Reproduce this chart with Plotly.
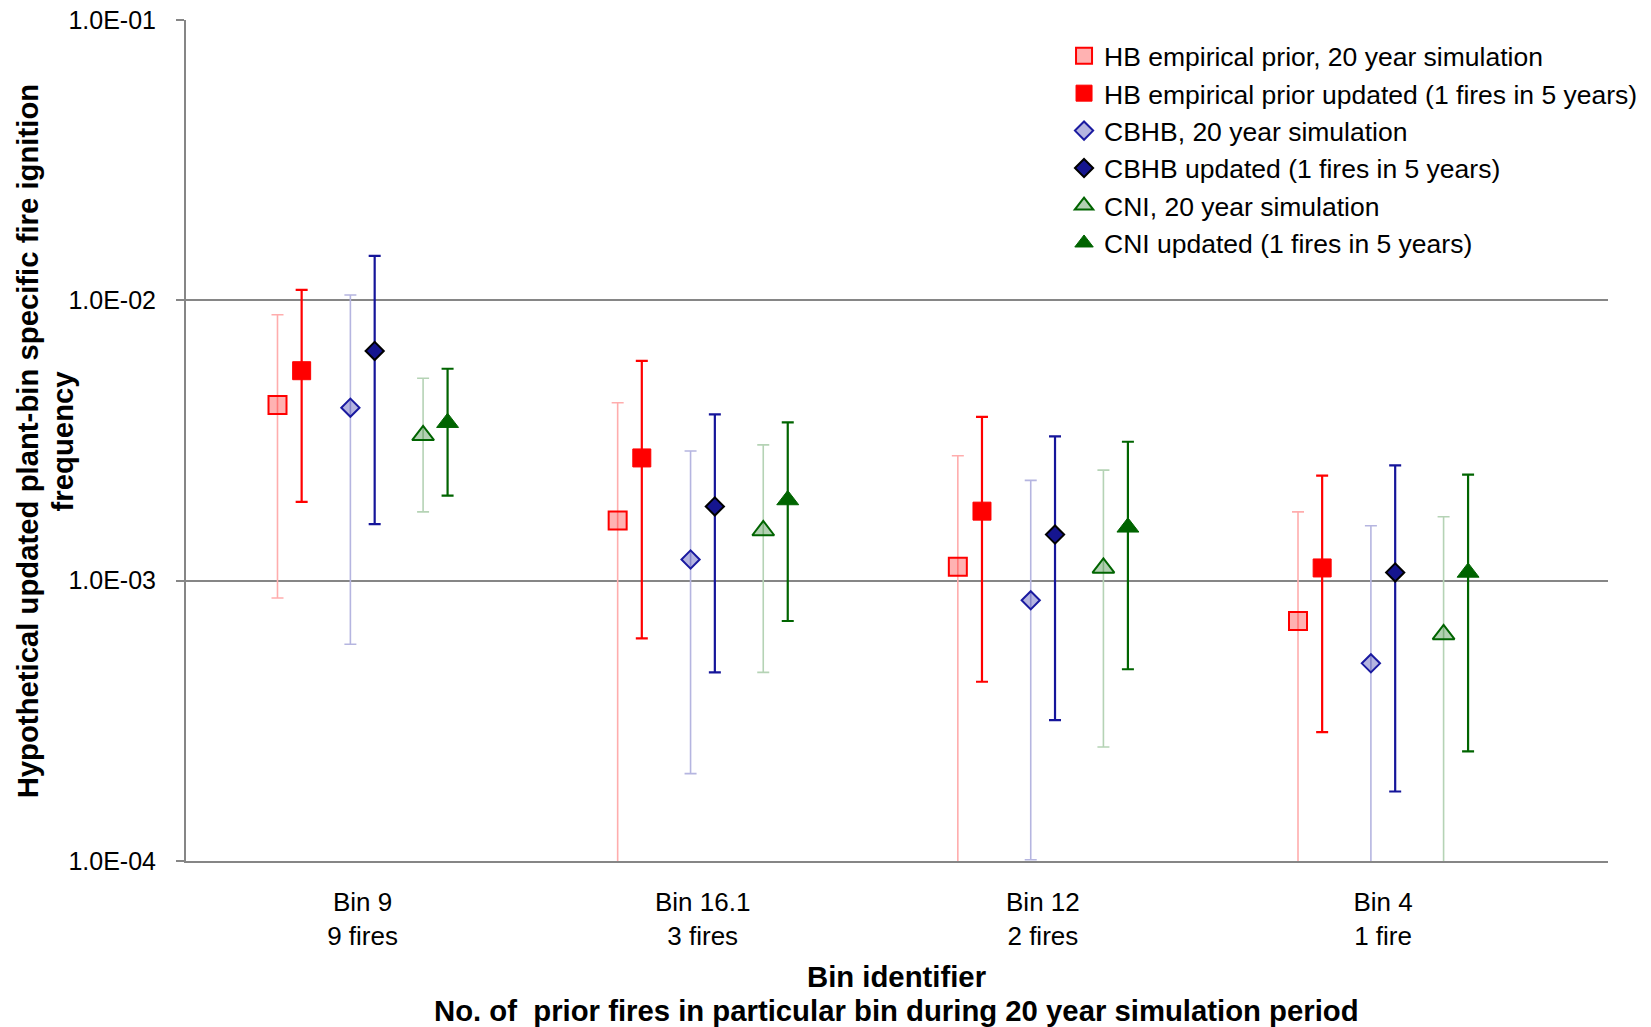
import plotly.graph_objects as go

# ---------------- data ----------------
bins = ["Bin 9", "Bin 16.1", "Bin 12", "Bin 4"]
fires = ["9 fires", "3 fires", "2 fires", "1 fire"]

hb_prior_mid = [4.23e-3, 1.64e-3, 1.12e-3, 7.18e-4]
hb_prior_hi = [8.88e-3, 4.31e-3, 2.79e-3, 1.76e-3]
hb_prior_lo = [8.67e-4, 5.0e-5, 5.0e-5, 5.0e-5]

hb_upd_mid = [5.61e-3, 2.74e-3, 1.77e-3, 1.11e-3]
hb_upd_hi = [1.089e-2, 6.08e-3, 3.84e-3, 2.37e-3]
hb_upd_lo = [1.91e-3, 6.23e-4, 4.36e-4, 2.88e-4]

cbhb_prior_mid = [4.14e-3, 1.19e-3, 8.51e-4, 5.07e-4]
cbhb_prior_hi = [1.045e-2, 2.90e-3, 2.28e-3, 1.57e-3]
cbhb_prior_lo = [5.93e-4, 2.05e-4, 1.01e-4, 5.0e-5]

cbhb_upd_mid = [6.60e-3, 1.84e-3, 1.46e-3, 1.07e-3]
cbhb_upd_hi = [1.44e-2, 3.92e-3, 3.27e-3, 2.58e-3]
cbhb_upd_lo = [1.59e-3, 4.71e-4, 3.18e-4, 1.77e-4]

cni_prior_mid = [3.30e-3, 1.51e-3, 1.11e-3, 6.43e-4]
cni_prior_hi = [5.27e-3, 3.05e-3, 2.48e-3, 1.69e-3]
cni_prior_lo = [1.76e-3, 4.71e-4, 2.55e-4, 5.0e-5]

cni_upd_mid = [3.66e-3, 1.94e-3, 1.55e-3, 1.07e-3]
cni_upd_hi = [5.70e-3, 3.67e-3, 3.13e-3, 2.39e-3]
cni_upd_lo = [2.01e-3, 7.18e-4, 4.83e-4, 2.46e-4]

y_tickvals = [1e-4, 1e-3, 1e-2, 1e-1]
y_ticktext = ["1.0E-04", "1.0E-03", "1.0E-02", "1.0E-01"]

y_title_lines = ["Hypothetical updated plant-bin specific fire ignition", "frequency"]
x_title_lines = ["Bin identifier", "No. of  prior fires in particular bin during 20 year simulation period"]

# ---------------- styling ----------------
FONT = "Liberation Sans, Arial, sans-serif"
TITLE_FONT = "Liberation Sans Narrow, Arial Narrow, Liberation Sans, Arial, sans-serif"

series = [
    dict(name="HB empirical prior, 20 year simulation", mid=hb_prior_mid, hi=hb_prior_hi, lo=hb_prior_lo,
         off=-0.25, symbol="square", size=18, fill="rgba(255,0,0,0.30)", line="#FF0000", lw=2,
         ecol="#FFADAD", ew=1.6),
    dict(name="HB empirical prior updated (1 fires in 5 years)", mid=hb_upd_mid, hi=hb_upd_hi, lo=hb_upd_lo,
         off=-0.179, symbol="square", size=18, fill="#FF0000", line="#FF0000", lw=1,
         ecol="#FF0000", ew=2.2),
    dict(name="CBHB, 20 year simulation", mid=cbhb_prior_mid, hi=cbhb_prior_hi, lo=cbhb_prior_lo,
         off=-0.0357, symbol="diamond", size=14, fill="rgba(26,26,160,0.32)", line="#1A1AA0", lw=2,
         ecol="#B5B5E0", ew=1.6),
    dict(name="CBHB updated (1 fires in 5 years)", mid=cbhb_upd_mid, hi=cbhb_upd_hi, lo=cbhb_upd_lo,
         off=0.0357, symbol="diamond", size=14, fill="#15158F", line="#000000", lw=2,
         ecol="#15159A", ew=2.2),
    dict(name="CNI, 20 year simulation", mid=cni_prior_mid, hi=cni_prior_hi, lo=cni_prior_lo,
         off=0.178, symbol="triangle-up", size=19, fill="rgba(0,100,0,0.30)", line="#006400", lw=2,
         ecol="#B5D3B5", ew=1.6),
    dict(name="CNI updated (1 fires in 5 years)", mid=cni_upd_mid, hi=cni_upd_hi, lo=cni_upd_lo,
         off=0.25, symbol="triangle-up", size=19, fill="#006400", line="#006400", lw=1,
         ecol="#006400", ew=2.2),
]

fig = go.Figure()
for i, s in enumerate(series):
    xs = [k + s["off"] for k in range(len(bins))]
    fig.add_trace(go.Scatter(
        x=xs, y=s["mid"], mode="markers", name=s["name"], legendgroup=f"g{i}",
        marker=dict(symbol=s["symbol"], size=s["size"], color=s["fill"],
                    line=dict(color=s["line"], width=s["lw"])),
        error_y=dict(type="data", symmetric=False,
                     array=[h - m for h, m in zip(s["hi"], s["mid"])],
                     arrayminus=[m - l for m, l in zip(s["mid"], s["lo"])],
                     color=s["ecol"], thickness=s["ew"], width=6),
        cliponaxis=True,
    ))

W, H = 1651, 1027
L, R, T, B = 186.4, 1607.7, 20.0, 861.3
pw, ph = R - L, B - T
cat_px0, cat_step = 362.85, 340.0
x0 = -(cat_px0 - L) / cat_step
x1 = x0 + pw / cat_step


def px_x(px):
    return (px - L) / pw


def px_y(py):
    return (B - py) / ph


annotations = []
for txt, xpx in zip(y_title_lines, [28, 63]):
    annotations.append(dict(text=f"<b>{txt}</b>", xref="paper", yref="paper", x=px_x(xpx), y=px_y(441),
                            xanchor="center", yanchor="middle", textangle=-90, showarrow=False,
                            font=dict(family=TITLE_FONT, size=29.3, color="black")))
for txt, ypx in zip(x_title_lines, [977, 1011]):
    annotations.append(dict(text=f"<b>{txt}</b>", xref="paper", yref="paper", x=px_x(897), y=px_y(ypx),
                            xanchor="center", yanchor="middle", showarrow=False,
                            font=dict(family=TITLE_FONT, size=29.3, color="black")))

fig.update_layout(
    width=W, height=H,
    margin=dict(l=L, r=W - R, t=T, b=H - B, pad=0, autoexpand=False),
    paper_bgcolor="white", plot_bgcolor="white",
    font=dict(family=FONT, size=26, color="black"),
    showlegend=True,
    legend=dict(x=px_x(1064), xanchor="left", y=px_y(32), yanchor="top",
                font=dict(family=FONT, size=26.5, color="black"),
                bgcolor="rgba(0,0,0,0)", tracegroupgap=0, itemsizing="trace"),
    xaxis=dict(range=[x0, x1], tickmode="array", tickvals=list(range(len(bins))),
               ticktext=[f"{b}<br>{f}" for b, f in zip(bins, fires)],
               showgrid=False, zeroline=False, showline=True, linecolor="#868686", linewidth=2,
               ticks="", ticklabelstandoff=17, tickfont=dict(size=26, family=FONT), automargin=False),
    yaxis=dict(type="log", range=[-4, -1], tickmode="array", tickvals=y_tickvals, ticktext=y_ticktext,
               showgrid=True, gridcolor="#868686", gridwidth=1.6, zeroline=False,
               showline=True, linecolor="#868686", linewidth=2,
               ticks="outside", ticklen=8, tickcolor="#868686", tickwidth=1.5,
               ticklabelstandoff=15, tickfont=dict(size=25, family=FONT), automargin=False),
    annotations=annotations,
)

fig.write_html("out.html")
